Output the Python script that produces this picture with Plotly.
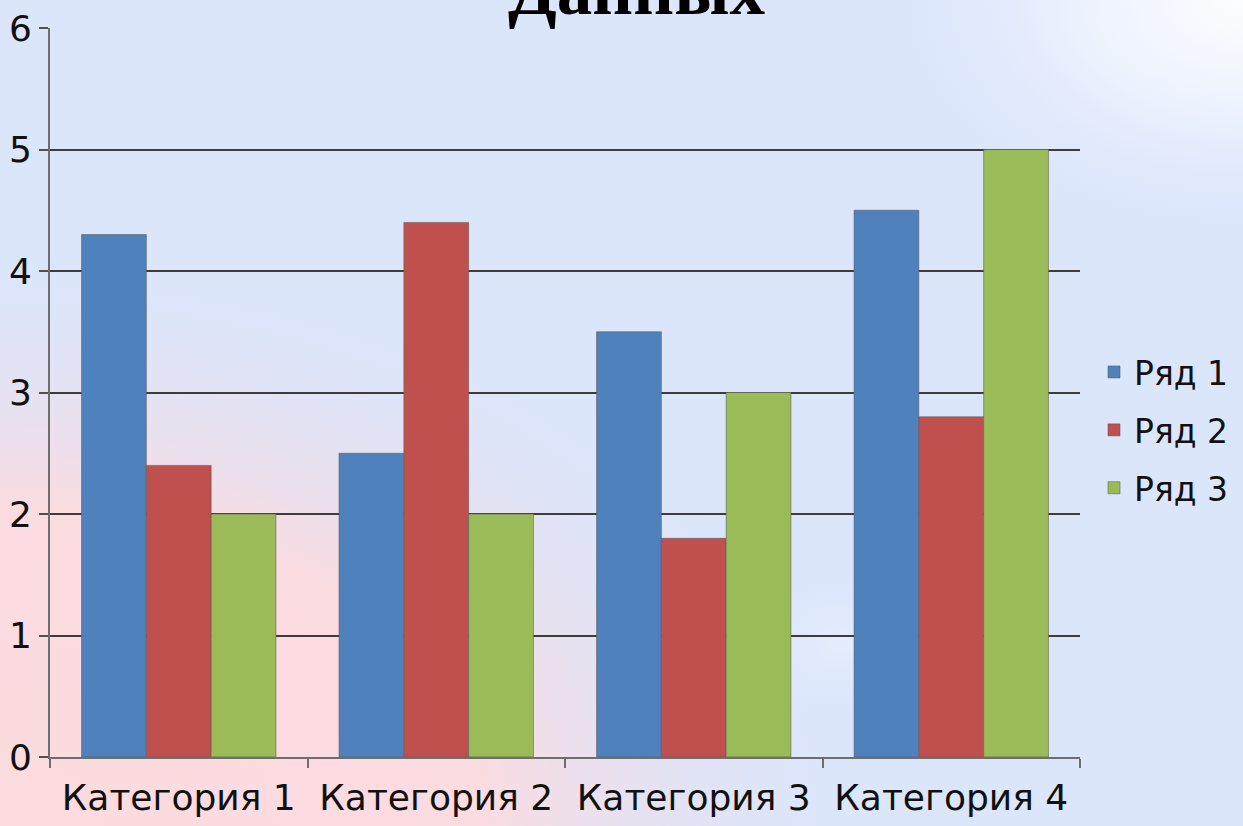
import base64
import plotly.graph_objects as go

categories = ["Категория 1", "Категория 2", "Категория 3", "Категория 4"]
series_names = ["Ряд 1", "Ряд 2", "Ряд 3"]
series1 = [4.3, 2.5, 3.5, 4.5]
series2 = [2.4, 4.4, 1.8, 2.8]
series3 = [2.0, 2.0, 3.0, 5.0]
colors = ["#4f81bd", "#c0504d", "#9bbb59"]
title_text = "Данных"

W, H = 1243, 826
ML, MR, MT, MB = 50, 163, 28, 69
PW, PH = W - ML - MR, H - MT - MB

svg = f"""<svg xmlns='http://www.w3.org/2000/svg' width='{W}' height='{H}' viewBox='0 0 {W} {H}' preserveAspectRatio='none'>
<defs>
<radialGradient id='p' cx='0' cy='1' r='0.7' gradientUnits='objectBoundingBox'>
<stop offset='0' stop-color='#fddbdf' stop-opacity='1'/>
<stop offset='0.55' stop-color='#fbdce1' stop-opacity='1'/>
<stop offset='0.78' stop-color='#e6e1f0' stop-opacity='0.7'/>
<stop offset='1' stop-color='#dce7fc' stop-opacity='0'/>
</radialGradient>
<radialGradient id='w' cx='1' cy='0' r='0.3' gradientUnits='objectBoundingBox'>
<stop offset='0' stop-color='#ffffff' stop-opacity='0.95'/>
<stop offset='0.45' stop-color='#f3f7fe' stop-opacity='0.7'/>
<stop offset='1' stop-color='#dce7fc' stop-opacity='0'/>
</radialGradient>
<radialGradient id='s' cx='0.68' cy='0.78' r='0.1' gradientUnits='objectBoundingBox'>
<stop offset='0' stop-color='#eef5ff' stop-opacity='0.5'/>
<stop offset='1' stop-color='#dce7fc' stop-opacity='0'/>
</radialGradient>
</defs>
<rect width='{W}' height='{H}' fill='#dce6fb'/>
<rect width='{W}' height='{H}' fill='url(#p)'/>
<rect width='{W}' height='{H}' fill='url(#w)'/>
<rect width='{W}' height='{H}' fill='url(#s)'/>
</svg>"""
src = "data:image/svg+xml;base64," + base64.b64encode(svg.encode("utf-8")).decode()

fig = go.Figure()
for name, vals, col in zip(series_names, [series1, series2, series3], colors):
    fig.add_trace(go.Bar(
        x=categories, y=vals, name=name, legendgroup=name,
        marker=dict(color=col, line=dict(color="rgba(90,90,90,0.55)", width=1)),
    ))

axis_font = dict(family="DejaVu Sans", size=36, color="#111111")
legend_font = dict(family="DejaVu Sans", size=33, color="#111111")

fig.update_layout(
    width=W, height=H,
    margin=dict(l=ML, r=MR, t=MT, b=MB, pad=0, autoexpand=False),
    barmode="group", bargap=0.245, bargroupgap=0,
    paper_bgcolor="#dce6fb", plot_bgcolor="rgba(0,0,0,0)",
    showlegend=True,
    legend=dict(
        x=1094 / W, xref="container", y=1 - 430 / H, yref="container",
        yanchor="middle", xanchor="left",
        font=legend_font, bgcolor="rgba(0,0,0,0)", traceorder="grouped",
        tracegroupgap=12, itemwidth=30, borderwidth=0,
    ),
    xaxis=dict(
        automargin=False,
        showgrid=False, showline=True, linecolor="#6e6e6e", linewidth=2,
        ticks="outside", tickson="boundaries", ticklen=9, tickwidth=2, tickcolor="#6e6e6e",
        tickfont=axis_font, ticklabelstandoff=8,
    ),
    yaxis=dict(
        automargin=False,
        range=[0, 6], dtick=1, showgrid=True, gridcolor="#3c3c3c", gridwidth=2,
        showline=True, linecolor="#6e6e6e", linewidth=2,
        ticks="outside", ticklen=9, tickwidth=2, tickcolor="#505050",
        tickfont=axis_font, zeroline=False,
    ),
    images=[dict(
        source=src, xref="paper", yref="paper",
        x=-ML / PW, y=1 + MT / PH, sizex=W / PW, sizey=H / PH,
        xanchor="left", yanchor="top", sizing="stretch", layer="below",
    )],
    annotations=[dict(
        text=f"<b>{title_text}</b>", xref="paper", yref="paper",
        x=(637 - ML) / PW, y=1 + (MT + 10) / PH, xanchor="center", yanchor="middle",
        showarrow=False, font=dict(family="Liberation Serif", size=71, color="#000000"),
    )],
)

fig.write_html(
    "out.html",
    config={"displayModeBar": False},
    post_script="document.body.style.margin='0';document.body.style.overflow='hidden';",
)
